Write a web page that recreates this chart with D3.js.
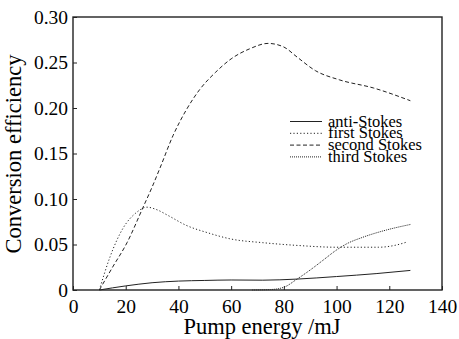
<!DOCTYPE html>
<html>
<head>
<meta charset="utf-8">
<script src="https://cdn.jsdelivr.net/npm/d3@7"></script>
<style>
	html, body { margin: 0; padding: 0; background: #fff; }
	svg { display: block; }
	text { font-family: "Liberation Serif", "DejaVu Serif", serif; fill: #000; }
</style>
</head>
<body>
<div id="chart"></div>
<script>
// pump energy (mJ) / conversion efficiency
var antiStokes = [[10,0],[20,0.0045],[30,0.008],[40,0.0098],[50,0.0105],[60,0.011],[72,0.0108],[85,0.012],[100,0.0148],[115,0.018],[128,0.0215]];
var firstStokes = [[10,0],[14,0.036],[19,0.068],[24,0.085],[28,0.091],[32,0.088],[36,0.082],[43,0.071],[51,0.063],[60,0.056],[72,0.052],[85,0.049],[100,0.047],[116,0.047],[122,0.049],[127,0.053]];
var secondStokes = [[10,0],[15,0.025],[20.5,0.052],[26.6,0.091],[30,0.113],[33,0.134],[38,0.17],[43,0.198],[48,0.22],[54,0.239],[60,0.254],[67,0.265],[74,0.271],[80,0.267],[85,0.256],[92,0.241],[101,0.231],[114,0.222],[128,0.208]];
var thirdStokes = [[68,0],[75,0.0005],[80,0.003],[85,0.012],[90,0.022],[95,0.033],[100,0.044],[104,0.051],[110,0.058],[119,0.066],[128,0.072]];

var seriesNames = ["anti-Stokes", "first Stokes", "second Stokes", "third Stokes"];
var xTicks = [0, 20, 40, 60, 80, 100, 120, 140];
var yTicks = [0, 0.05, 0.10, 0.15, 0.20, 0.25, 0.30];

var W = 459, H = 339,
	padL = 73, padR = 442, padT = 17, padB = 290;

var series = [
	{ name: seriesNames[0], data: antiStokes, dash: null },
	{ name: seriesNames[1], data: firstStokes, dash: "1.2,2.2" },
	{ name: seriesNames[2], data: secondStokes, dash: "4,2.5" },
	{ name: seriesNames[3], data: thirdStokes, dash: "1,1" }
];

var x = d3.scaleLinear().domain([0, 140]).range([padL, padR]);
var y = d3.scaleLinear().domain([0, 0.30]).range([padB, padT]);

var svg = d3.select("#chart").append("svg")
	.attr("width", W)
	.attr("height", H);

// axes with inward ticks
var xAxis = svg.append("g")
	.attr("transform", "translate(0," + padB + ")")
	.call(d3.axisBottom(x).tickValues(xTicks).tickSizeInner(-4).tickSizeOuter(0).tickPadding(9));

var yAxis = svg.append("g")
	.attr("transform", "translate(" + padL + ",0)")
	.call(d3.axisLeft(y).tickValues(yTicks).tickSizeInner(-4).tickSizeOuter(0).tickPadding(5)
		.tickFormat(function (d) { return d === 0 ? "0" : d3.format(".2f")(d); }));

[xAxis, yAxis].forEach(function (g) {
	g.select(".domain").remove();
	g.selectAll(".tick line").attr("stroke", "#222").attr("stroke-width", 1);
	g.selectAll(".tick text")
		.attr("fill", "#000")
		.style("font-family", "'Liberation Serif', serif")
		.style("font-size", "19.5px");
});

// frame
svg.append("rect")
	.attr("x", padL)
	.attr("y", padT)
	.attr("width", padR - padL)
	.attr("height", padB - padT)
	.attr("fill", "none")
	.attr("stroke", "#222")
	.attr("stroke-width", 1.4);

var line = d3.line()
	.x(function (d) { return x(d[0]); })
	.y(function (d) { return y(d[1]); })
	.curve(d3.curveMonotoneX);

svg.selectAll("path.series")
	.data(series)
	.join("path")
	.attr("class", "series")
	.attr("d", function (d) { return line(d.data); })
	.attr("fill", "none")
	.attr("stroke", "#222")
	.attr("stroke-width", 1)
	.attr("stroke-dasharray", function (d) { return d.dash; });

// legend
var legend = svg.append("g").attr("transform", "translate(290,121.5)");
var row = legend.selectAll("g")
	.data(series)
	.join("g")
	.attr("transform", function (d, i) { return "translate(0," + (i * 11.8) + ")"; });

row.append("line")
	.attr("x1", 0).attr("x2", 32)
	.attr("y1", 0).attr("y2", 0)
	.attr("stroke", "#222")
	.attr("stroke-width", 1)
	.attr("stroke-dasharray", function (d) { return d.dash; });

row.append("text")
	.attr("x", 38)
	.attr("y", 5)
	.style("font-size", "16.5px")
	.text(function (d) { return d.name; });

// axis titles
svg.append("text")
	.attr("x", 262)
	.attr("y", 334)
	.attr("text-anchor", "middle")
	.style("font-size", "22.5px")
	.text("Pump energy /mJ");

svg.append("text")
	.attr("transform", "translate(21,154) rotate(-90)")
	.attr("text-anchor", "middle")
	.style("font-size", "22.5px")
	.text("Conversion efficiency");
</script>
</body>
</html>
